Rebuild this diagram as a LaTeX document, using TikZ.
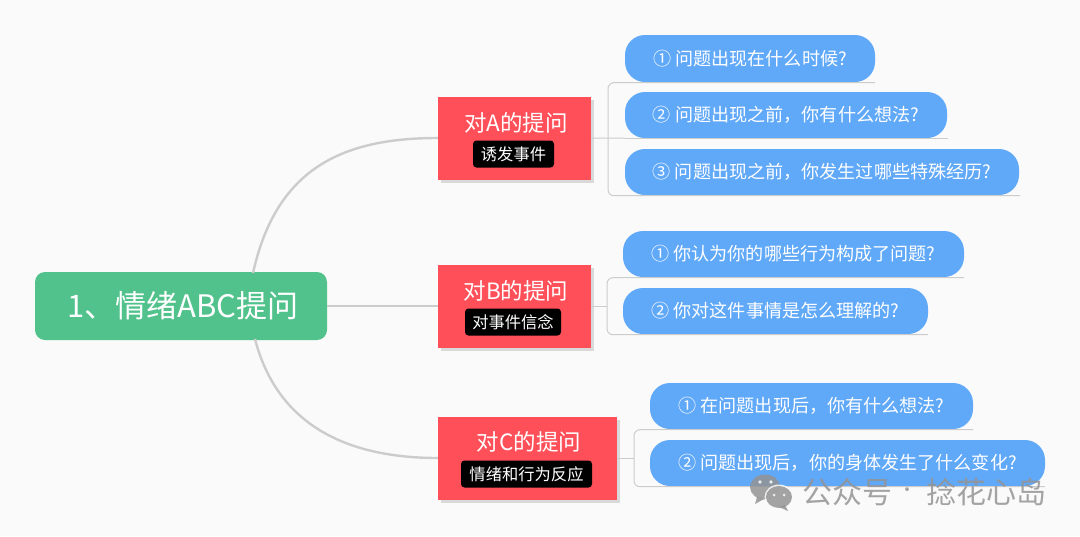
\documentclass[tikz,border=0pt]{standalone}
\usepackage{fontspec}
\setmainfont{Noto Sans CJK SC}
\usetikzlibrary{calc}
\definecolor{bgc}{HTML}{FAFAFA}
\definecolor{rootc}{HTML}{52C28C}
\definecolor{redc}{HTML}{FF5059}
\definecolor{bluec}{HTML}{60A8F8}
\definecolor{linec}{HTML}{CCCCCC}
\tikzset{
  rootbox/.style={fill=rootc,rounded corners=10pt,inner sep=0pt,text=white},
  roottext/.style={text=white,inner sep=0pt,font=\fontsize{31}{35}\selectfont},
  redbox/.style={fill=redc,inner sep=0pt,minimum height=83pt},
  redshadow/.style={fill=black!15,inner sep=0pt,minimum height=83pt},
  title/.style={text=white,inner sep=0pt,font=\fontsize{22.5}{26}\selectfont},
  tagbox/.style={fill=black,text=white,rounded corners=3.5pt,inner sep=0pt,minimum height=27pt,font=\fontsize{16.3}{19}\selectfont},
  bubble/.style={fill=bluec,text=white,rounded corners=20pt,inner sep=0pt,font=\fontsize{18.1}{21}\selectfont},
  trunk/.style={draw=linec,line width=2.4pt},
  twig/.style={draw=linec,line width=1pt},
  bracket/.style={twig,rounded corners=6pt},
  wmtext/.style={text=black!42,inner sep=0pt,font=\fontsize{30}{34}\selectfont}
}
\begin{document}
\begin{tikzpicture}[x=1pt,y=-1pt]
\useasboundingbox (0,0) rectangle (1080,536);
\fill[bgc] (0,0) rectangle (1080,536);
\coordinate (rootT) at (253,273);
\coordinate (rootB) at (255,339);
\node[rootbox,minimum width=292pt,minimum height=68pt] (root) at (181,306) {};
\node[roottext] (rootlabel) at (183,306) {1、情绪ABC提问};
\node[redshadow,minimum width=153pt] at (517.5,141) {};
\node[redshadow,minimum width=153pt] at (517.5,309) {};
\node[redshadow,minimum width=179pt] at (530.5,461) {};
\node[redbox,minimum width=153pt] (ra) at (514.5,138) {};
\node[redbox,minimum width=153pt] (rb) at (514.5,306) {};
\node[redbox,minimum width=179pt] (rc) at (527.5,458) {};
\node[title] (ta) at (516,123) {对A的提问};
\node[title] (tb) at (516,291) {对B的提问};
\node[title] (tc) at (529,442) {对C的提问};
\node[tagbox,minimum width=81pt] (ga) at (513.5,154) {诱发事件};
\node[tagbox,minimum width=96pt] (gb) at (513,322) {对事件信念};
\node[tagbox,minimum width=131pt] (gc) at (526.5,474) {情绪和行为反应};
\node[bubble,minimum width=250pt,minimum height=47pt] (a1) at (750,58.5) {① 问题出现在什么时候?};
\node[bubble,minimum width=322pt,minimum height=46pt] (a2) at (786,115) {② 问题出现之前，你有什么想法?};
\node[bubble,minimum width=394pt,minimum height=46pt] (a3) at (822,172) {③ 问题出现之前，你发生过哪些特殊经历?};
\node[bubble,minimum width=341pt,minimum height=46pt] (b1) at (793.5,254) {① 你认为你的哪些行为构成了问题?};
\node[bubble,minimum width=305pt,minimum height=46pt] (b2) at (775.5,311) {② 你对这件事情是怎么理解的?};
\node[bubble,minimum width=323pt,minimum height=46pt] (c1) at (811.5,406) {① 在问题出现后，你有什么想法?};
\node[bubble,minimum width=395pt,minimum height=46pt] (c2) at (847.5,463) {② 问题出现后，你的身体发生了什么变化?};
\coordinate (sa) at (608,138);
\coordinate (sb) at (607,306);
\coordinate (sc) at (634,458);
\draw[trunk] (rootT) .. controls (276,170) and (340,138) .. (ra.west);
\draw[trunk] (root.east) -- (rb.west);
\draw[trunk] (rootB) .. controls (276,420) and (340,458) .. (rc.west);
\draw[twig] (ra.east) -- (a2.south west);
\draw[bracket] ($(a1.south east)+(0,0.5)$) -| (sa) |- ($(a3.south east)+(1,0.5)$);
\draw[twig] (a2.south west) -- ($(a2.south east)+(1,0)$);
\draw[twig] (rb.east) -- (sb);
\draw[bracket] ($(b1.south east)+(0,0.5)$) -| (sb) |- ($(b2.south east)+(0,0.5)$);
\draw[twig] (rc.east) -- (sc);
\draw[bracket] ($(c1.south east)+(0,0.5)$) -| (sc) |- ($(c2.south east)+(0,0.5)$);
% watermark
\begin{scope}[opacity=0.85]
\fill[black!42] (765,487) ellipse (15 and 12.5);
\fill[black!42] (757,497) -- (755,504) -- (764,499) -- cycle;
\fill[bgc] (779,497) ellipse (14.5 and 12.5);
\fill[black!42] (779,497) ellipse (13 and 11);
\fill[black!42] (785,505) -- (788,511) -- (779,507) -- cycle;
\fill[bgc] (760,482) circle (1.8) (771,482) circle (1.8) (774,495) circle (1.5) (784,495) circle (1.5);
\node[wmtext] (wm1) at (847,492) {公众号};
\node[wmtext,font=\fontsize{18}{20}\selectfont] (wm2) at (907,492) {·};
\node[wmtext] (wm3) at (986,492) {捻花心岛};
\end{scope}
\end{tikzpicture}
\end{document}
